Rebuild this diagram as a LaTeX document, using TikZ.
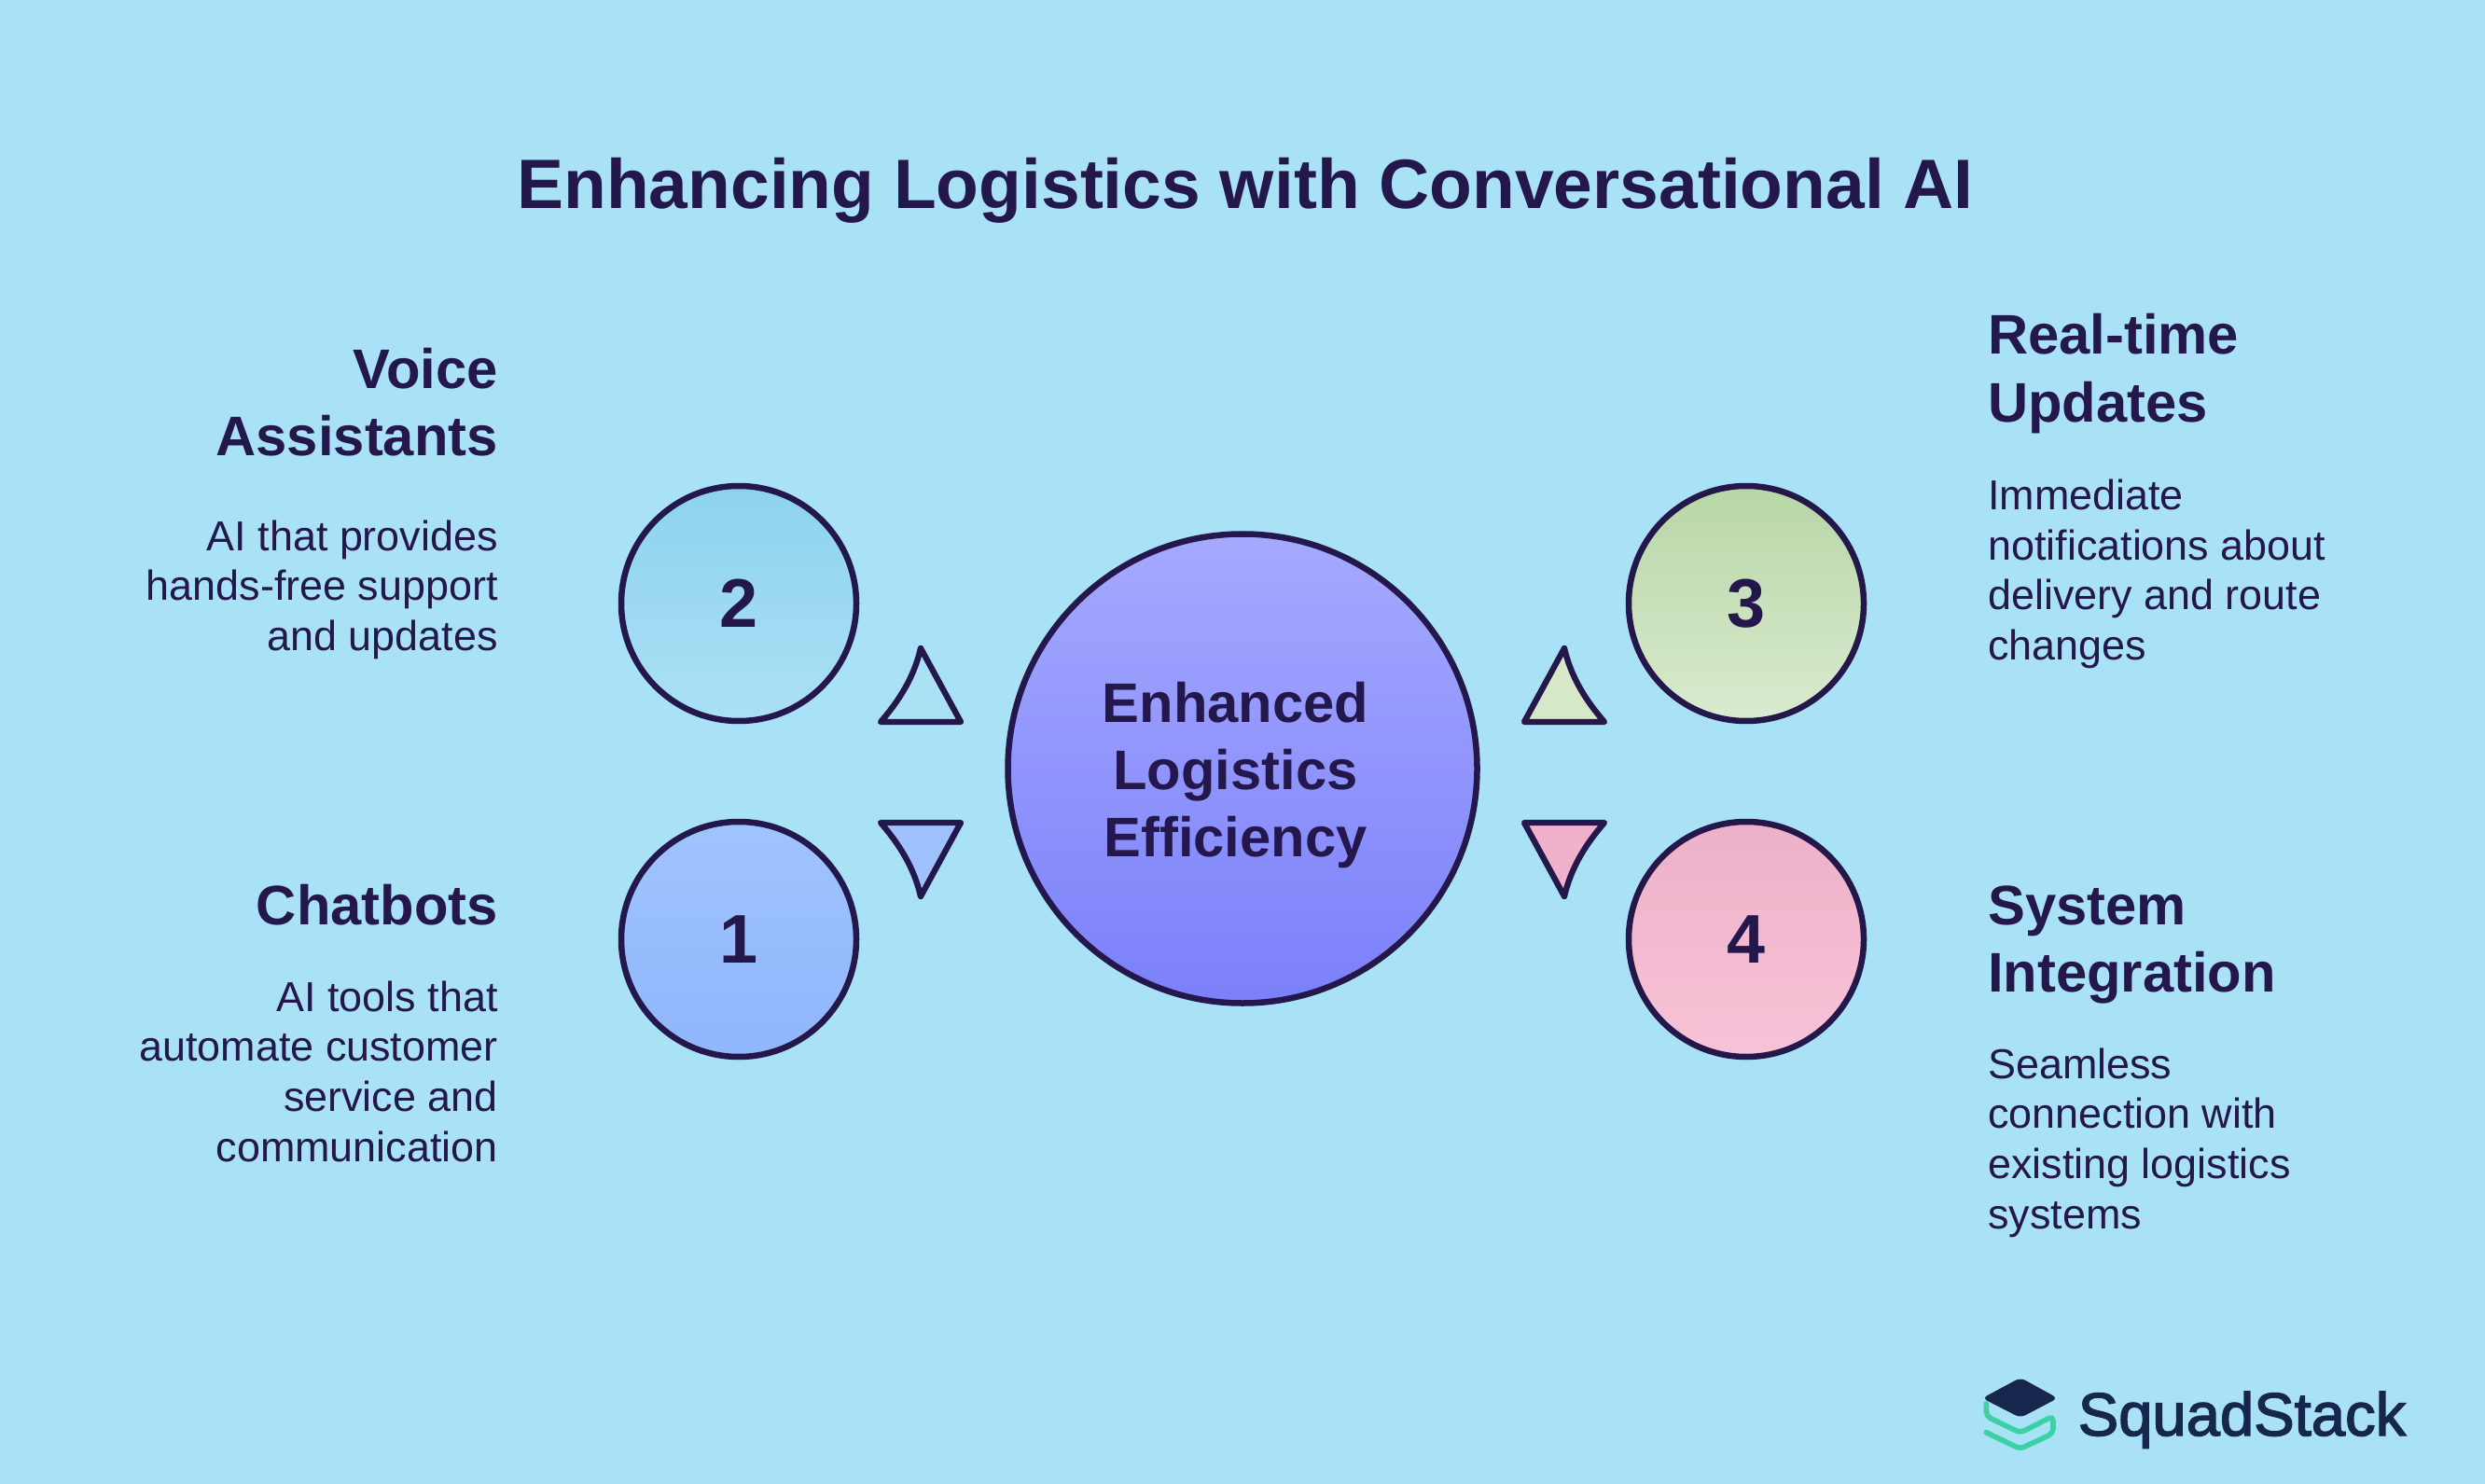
\documentclass[tikz,border=0pt]{standalone}
\usepackage{fontspec}
\setmainfont{Liberation Sans}
\newfontfamily\logofont[FakeBold=2.2]{Liberation Sans}
\usetikzlibrary{positioning}
\definecolor{Sky}{HTML}{A9E1F6}
\definecolor{Ink}{HTML}{24174C}
\definecolor{LogoInk}{HTML}{16264C}
\definecolor{LogoGreen}{HTML}{3BD1A3}
\definecolor{HubTop}{HTML}{A5A9FF}
\definecolor{HubBottom}{HTML}{7B80FA}
\definecolor{CyanTop}{HTML}{8DD3EE}
\definecolor{CyanBottom}{HTML}{ABE0F4}
\definecolor{PeriTop}{HTML}{A0C4FF}
\definecolor{PeriBottom}{HTML}{90B6FC}
\definecolor{GreenTop}{HTML}{B8D6A5}
\definecolor{GreenBottom}{HTML}{DAEBD0}
\definecolor{PinkTop}{HTML}{EDB1C8}
\definecolor{PinkBottom}{HTML}{F7C3D7}
\definecolor{WedgeCyan}{HTML}{ABE1F5}
\definecolor{WedgePeri}{HTML}{9FC2FF}
\definecolor{WedgeGreen}{HTML}{D6E8C8}
\definecolor{WedgePink}{HTML}{F0B2CA}
\tikzstyle{NumCircle}=[circle, draw=Ink, line width=1.85pt, minimum size=2.52cm, inner sep=0pt, outer sep=0pt, text=Ink, font=\fontsize{21}{25}\selectfont\bfseries]
\tikzstyle{HubCircle}=[circle, draw=Ink, line width=1.85pt, minimum size=5.03cm, inner sep=0pt, outer sep=0pt, top color=HubTop, bottom color=HubBottom]
\tikzstyle{HeadLeft}=[anchor=north east, align=right, inner sep=0pt, text=Ink, font=\fontsize{17}{20.5}\selectfont\bfseries]
\tikzstyle{HeadRight}=[anchor=north west, align=left, inner sep=0pt, text=Ink, font=\fontsize{17}{20.5}\selectfont\bfseries]
\tikzstyle{BodyLeft}=[align=right, inner sep=0pt, text=Ink, font=\fontsize{12.78}{15.3}\selectfont]
\tikzstyle{BodyRight}=[align=left, inner sep=0pt, text=Ink, font=\fontsize{12.78}{15.3}\selectfont]
\tikzstyle{Wedge}=[draw=Ink, line width=1.8pt, line join=round]
\begin{document}
\begin{tikzpicture}
	\fill[Sky] (0,0) rectangle (26.64,-15.91);
	\useasboundingbox (0,0) rectangle (26.64,-15.91);

	%Title
	\node[inner sep=0pt, text=Ink, anchor=base, font=\fontsize{21.32}{25}\selectfont\bfseries] (title) at (13.35,-2.235) {Enhancing Logistics with Conversational AI};

	%Circles
	\node[HubCircle]	(hub)		at (13.32,-8.24)	{};
	\node[inner sep=0pt, align=center, text=Ink, font=\fontsize{17}{20.5}\selectfont\bfseries] (hub_text) at ([xshift=-0.075cm,yshift=-0.07cm]hub.center) {Enhanced\\Logistics\\Efficiency};
	\node[NumCircle, top color=CyanTop, bottom color=CyanBottom]	(num2)	at (7.92,-6.47)	{2};
	\node[NumCircle, top color=PeriTop, bottom color=PeriBottom]	(num1)	[below=1.08cm of num2]	{1};
	\node[NumCircle, top color=GreenTop, bottom color=GreenBottom]	(num3)	[right=8.28cm of num2]	{3};
	\node[NumCircle, top color=PinkTop, bottom color=PinkBottom]	(num4)	[right=8.28cm of num1]	{4};

	%Left texts
	\node[HeadLeft]		(voice_head)	at (5.345,-3.725)	{Voice\\Assistants};
	\node[BodyLeft]		(voice_body)	[below left=0.67cm and 0cm of voice_head.south east]	{AI that provides\\hands-free support\\and updates};
	\node[HeadLeft]		(chat_head)		at (5.345,-9.47)	{Chatbots};
	\node[BodyLeft]		(chat_body)		[below left=0.585cm and 0cm of chat_head.south east]	{AI tools that\\automate customer\\service and\\communication};

	%Right texts
	\node[HeadRight]	(updates_head)	at (21.305,-3.36)	{Real-time\\Updates};
	\node[BodyRight]	(updates_body)	[below right=0.48cm and 0cm of updates_head.south west]	{Immediate\\notifications about\\delivery and route\\changes};
	\node[HeadRight]	(system_head)	at (21.305,-9.49)	{System\\Integration};
	\node[BodyRight]	(system_body)	[below right=0.46cm and 0cm of system_head.south west]	{Seamless\\connection with\\existing logistics\\systems};

	%Wedges
	\draw[Wedge, fill=WedgeCyan]	(9.87,-6.95) .. controls (9.80,-7.25) and (9.65,-7.50) .. (9.44,-7.74) -- (10.30,-7.74) -- cycle;
	\draw[Wedge, fill=WedgePeri]	(9.87,-9.61) .. controls (9.80,-9.31) and (9.65,-9.06) .. (9.44,-8.82) -- (10.30,-8.82) -- cycle;
	\draw[Wedge, fill=WedgeGreen]	(16.77,-6.95) .. controls (16.84,-7.25) and (16.99,-7.50) .. (17.20,-7.74) -- (16.34,-7.74) -- cycle;
	\draw[Wedge, fill=WedgePink]	(16.77,-9.61) .. controls (16.84,-9.31) and (16.99,-9.06) .. (17.20,-8.82) -- (16.34,-8.82) -- cycle;

	%Logo
	\draw[LogoGreen, line width=1.6pt, rounded corners=0.05cm, line cap=round] (21.293,-15.05) -- (21.293,-15.183) -- (21.657,-15.36) -- (22.01,-15.183) -- (22.01,-15.367) -- (21.657,-15.533) -- (21.293,-15.357);
	\fill[LogoInk, rounded corners=0.06cm] (21.25,-14.99) -- (21.66,-14.77) -- (22.06,-14.99) -- (21.66,-15.20) -- cycle;
	\node[inner sep=0pt, anchor=base west, text=LogoInk, font=\logofont\fontsize{18.55}{22}\selectfont] (logo_text) at (22.27,-15.39) {SquadStack};
\end{tikzpicture}
\end{document}
